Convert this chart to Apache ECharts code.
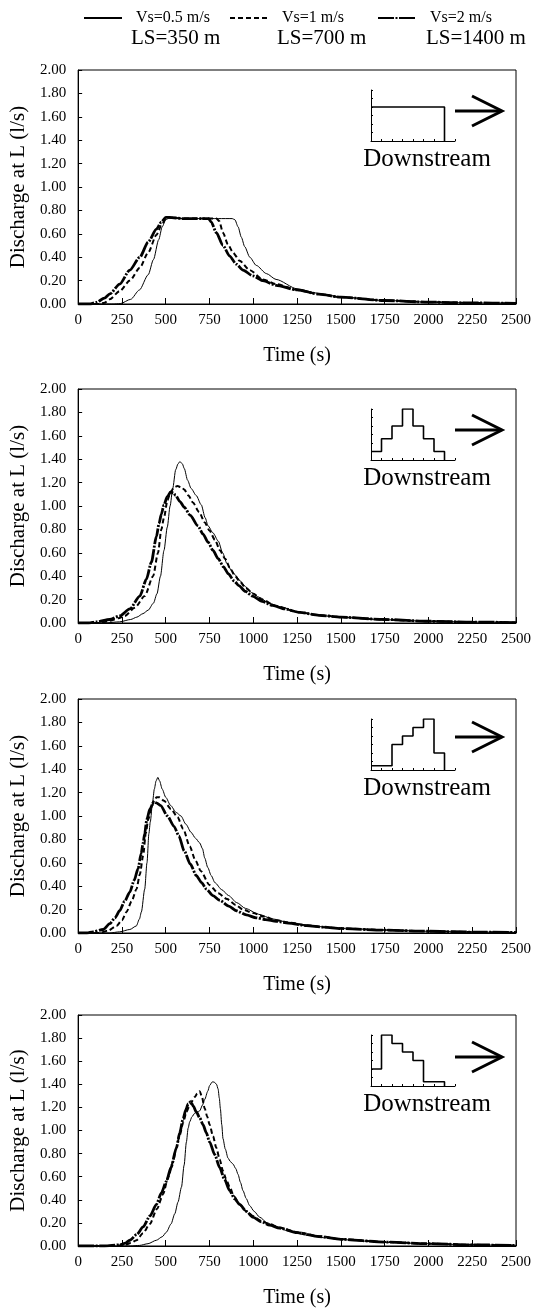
<!DOCTYPE html>
<html>
<head>
<meta charset="utf-8">
<title>Discharge at L</title>
<script src="https://cdn.jsdelivr.net/npm/echarts@6.0.0/dist/echarts.min.js"></script>
<style>
    body { margin: 0; background: #fff; }
    #main { width: 534px; height: 1309px; }
</style>
</head>
<body>
<div id="main"></div>
<script>
// series names and labels
var seriesNames = ['Vs=0.5 m/s', 'Vs=1 m/s', 'Vs=2 m/s'];
var lengthLabels = ['LS=350 m', 'LS=700 m', 'LS=1400 m'];
var yTickStep = 0.2;
var xTickStep = 250;

// panel 1 (uniform inflow) : [time s, discharge l/s]
var p1_v05 = [[0,0],[200,0],[240,0.003],[300,0.04],[350,0.12],[400,0.25],[430,0.38],[460,0.55],[480,0.66],[500,0.72],[520,0.735],[600,0.73],[700,0.73],[800,0.73],[880,0.73],[895,0.72],[913,0.66],[932,0.57],[951,0.49],[980,0.40],[1017,0.33],[1075,0.26],[1130,0.21],[1250,0.13],[1375,0.09],[1500,0.06],[1750,0.03],[2000,0.016],[2250,0.009],[2500,0.005]];
var p1_v1 = [[0,0],[120,0],[150,0.01],[180,0.04],[237,0.11],[295,0.2],[352,0.31],[400,0.44],[447,0.59],[475,0.67],[500,0.73],[520,0.74],[600,0.73],[700,0.73],[790,0.73],[805,0.71],[827,0.61],[855,0.51],[884,0.44],[922,0.37],[979,0.29],[1055,0.21],[1130,0.17],[1250,0.12],[1375,0.085],[1500,0.058],[1750,0.03],[2000,0.016],[2250,0.009],[2500,0.005]];
var p1_v2 = [[0,0],[70,0],[104,0.014],[150,0.05],[181,0.086],[237,0.17],[295,0.29],[352,0.40],[400,0.53],[447,0.64],[475,0.70],[500,0.74],[520,0.74],[600,0.73],[700,0.73],[745,0.73],[760,0.70],[789,0.61],[827,0.50],[865,0.41],[903,0.34],[941,0.29],[998,0.24],[1055,0.20],[1130,0.16],[1250,0.12],[1375,0.085],[1500,0.058],[1750,0.03],[2000,0.016],[2250,0.009],[2500,0.005]];

// panel 2 (triangular inflow)
var p2_v05 = [[0,0],[150,0],[237,0.01],[300,0.03],[335,0.05],[370,0.08],[400,0.11],[430,0.17],[450,0.25],[470,0.40],[490,0.62],[509,0.82],[525,1.0],[540,1.15],[557,1.31],[570,1.36],[581,1.38],[595,1.36],[606,1.32],[625,1.22],[645,1.15],[674,1.09],[703,1.01],[725,0.9],[742,0.83],[770,0.77],[800,0.70],[825,0.60],[849,0.51],[875,0.45],[897,0.41],[925,0.36],[956,0.31],[990,0.26],[1033,0.22],[1090,0.17],[1150,0.14],[1266,0.09],[1375,0.065],[1500,0.048],[1750,0.028],[2000,0.015],[2250,0.008],[2500,0.004]];
var p2_v1 = [[0,0],[130,0],[181,0.02],[230,0.04],[266,0.06],[323,0.13],[380,0.23],[428,0.40],[456,0.60],[475,0.80],[490,0.90],[510,1.05],[528,1.12],[548,1.16],[567,1.17],[590,1.16],[606,1.14],[630,1.09],[655,1.03],[690,0.95],[723,0.86],[750,0.79],[781,0.71],[810,0.62],[839,0.55],[870,0.46],[897,0.40],[925,0.35],[956,0.30],[1000,0.25],[1050,0.20],[1131,0.145],[1250,0.095],[1375,0.068],[1500,0.05],[1750,0.028],[2000,0.015],[2250,0.008],[2500,0.004]];
var p2_v2 = [[0,0],[60,0],[104,0.01],[180,0.03],[237,0.06],[295,0.12],[352,0.23],[390,0.375],[418,0.52],[447,0.74],[462,0.85],[475,0.93],[490,1.01],[509,1.08],[528,1.12],[545,1.11],[557,1.09],[580,1.04],[606,0.99],[640,0.92],[684,0.83],[713,0.76],[742,0.69],[770,0.62],[800,0.55],[830,0.48],[858,0.42],[890,0.36],[917,0.32],[955,0.27],[995,0.23],[1050,0.185],[1111,0.15],[1180,0.12],[1266,0.09],[1375,0.066],[1500,0.05],[1750,0.03],[2000,0.015],[2250,0.008],[2500,0.004]];

// panel 3 (rising inflow)
var p3_v05 = [[0,0],[180,0],[237,0.01],[295,0.03],[332,0.06],[350,0.12],[361,0.18],[380,0.375],[393,0.60],[404,0.85],[412,0.95],[425,1.12],[435,1.23],[445,1.30],[455,1.33],[465,1.30],[480,1.23],[500,1.16],[528,1.09],[560,1.03],[587,1.0],[615,0.93],[645,0.86],[670,0.81],[694,0.77],[710,0.72],[723,0.64],[740,0.56],[760,0.49],[781,0.43],[820,0.37],[859,0.32],[905,0.26],[956,0.21],[1030,0.16],[1111,0.12],[1200,0.09],[1305,0.068],[1400,0.052],[1500,0.04],[1750,0.025],[2000,0.015],[2250,0.008],[2500,0.004]];
var p3_v1 = [[0,0],[120,0],[171,0.02],[219,0.06],[250,0.11],[276,0.18],[305,0.27],[333,0.375],[352,0.50],[371,0.66],[386,0.85],[400,0.97],[420,1.08],[435,1.13],[447,1.16],[465,1.16],[490,1.13],[530,1.06],[567,0.99],[600,0.89],[637,0.74],[670,0.62],[700,0.53],[750,0.41],[800,0.34],[850,0.29],[900,0.24],[941,0.20],[1000,0.17],[1060,0.14],[1131,0.11],[1200,0.09],[1305,0.065],[1400,0.05],[1500,0.04],[1750,0.025],[2000,0.015],[2250,0.008],[2500,0.004]];
var p3_v2 = [[0,0],[50,0],[85,0.01],[143,0.03],[181,0.08],[210,0.13],[237,0.19],[265,0.27],[295,0.35],[320,0.45],[342,0.55],[360,0.68],[371,0.77],[380,0.85],[392,0.97],[410,1.06],[431,1.12],[450,1.11],[470,1.09],[510,1.0],[548,0.91],[575,0.83],[606,0.70],[640,0.59],[675,0.49],[705,0.43],[732,0.375],[770,0.32],[808,0.28],[860,0.23],[903,0.19],[960,0.155],[1017,0.13],[1070,0.115],[1131,0.1],[1200,0.085],[1305,0.063],[1400,0.05],[1500,0.038],[1750,0.024],[2000,0.015],[2250,0.008],[2500,0.004]];

// panel 4 (falling inflow)
var p4_v05 = [[0,0],[300,0],[350,0.005],[399,0.02],[447,0.05],[480,0.08],[504,0.12],[530,0.19],[552,0.28],[570,0.38],[590,0.51],[605,0.70],[618,0.90],[628,1.02],[637,1.075],[650,1.12],[666,1.15],[680,1.16],[694,1.17],[710,1.22],[723,1.27],[740,1.34],[751,1.39],[765,1.42],[776,1.42],[790,1.40],[799,1.36],[806,1.28],[812,1.19],[820,1.05],[827,0.93],[840,0.84],[856,0.76],[870,0.73],[884,0.71],[900,0.67],[913,0.62],[927,0.55],[941,0.48],[960,0.41],[979,0.35],[1005,0.30],[1036,0.25],[1080,0.20],[1131,0.165],[1200,0.13],[1300,0.095],[1400,0.072],[1500,0.055],[1750,0.032],[2000,0.02],[2250,0.01],[2500,0.005]];
var p4_v1 = [[0,0],[200,0],[266,0.01],[300,0.025],[333,0.05],[370,0.11],[409,0.19],[450,0.32],[485,0.45],[515,0.60],[542,0.73],[560,0.85],[580,0.96],[600,1.07],[618,1.16],[640,1.23],[666,1.29],[680,1.32],[694,1.34],[705,1.30],[723,1.19],[737,1.12],[751,1.05],[770,0.95],[789,0.85],[808,0.75],[827,0.65],[845,0.58],[865,0.51],[890,0.43],[922,0.36],[960,0.30],[998,0.26],[1040,0.22],[1093,0.19],[1150,0.16],[1250,0.12],[1375,0.085],[1500,0.06],[1750,0.035],[2000,0.02],[2250,0.01],[2500,0.005]];
var p4_v2 = [[0,0],[150,0],[237,0.01],[270,0.025],[295,0.05],[335,0.10],[371,0.165],[410,0.26],[447,0.36],[475,0.46],[504,0.56],[530,0.68],[561,0.85],[580,0.98],[599,1.10],[615,1.18],[628,1.23],[642,1.25],[658,1.21],[675,1.16],[694,1.11],[713,1.05],[732,0.98],[751,0.90],[780,0.79],[808,0.68],[835,0.58],[865,0.48],[893,0.41],[922,0.36],[960,0.30],[998,0.25],[1045,0.21],[1093,0.18],[1150,0.155],[1250,0.115],[1375,0.082],[1500,0.058],[1750,0.034],[2000,0.02],[2250,0.01],[2500,0.005]];

// inflow shape drawn in the small inset (relative heights of the 7 blocks)
var inlet1 = [4, 4, 4, 4, 4, 4, 4];
var inlet2 = [1, 2.5, 4, 6, 4, 2.5, 1];
var inlet3 = [0.5, 0.5, 3, 4, 5, 6, 2];
var inlet4 = [2, 6, 5, 4, 3, 0.5, 0.5];

var panels = [
    {data: [p1_v05, p1_v1, p1_v2], inlet: inlet1},
    {data: [p2_v05, p2_v1, p2_v2], inlet: inlet2},
    {data: [p3_v05, p3_v1, p3_v2], inlet: inlet3},
    {data: [p4_v05, p4_v1, p4_v2], inlet: inlet4}
];

var panelTops = [70, 389, 699, 1015];
var arrowY = [41, 41, 38, 42];
var font = 'Liberation Serif, Times New Roman, serif';
var lineStyles = [
    {color: '#000', width: 1, type: 'solid'},
    {color: '#000', width: 2, type: [5, 3]},
    {color: '#000', width: 2.8, type: [16, 1.5, 2, 1.5]}
];

var chart = echarts.init(document.getElementById('main'));

var grids = [], xAxes = [], yAxes = [], series = [], graphics = [];

panels.forEach(function (p, k) {
    var top = panelTops[k];
    // main plot
    grids.push({left: 78, right: 18, top: top, height: 234, show: true, borderColor: '#000', borderWidth: 1});
    xAxes.push({
        gridIndex: k, type: 'value', min: 0, max: 2500, interval: xTickStep,
        name: 'Time (s)', nameLocation: 'middle', nameGap: 42,
        nameTextStyle: {fontFamily: font, fontSize: 20, color: '#000'},
        axisLine: {lineStyle: {color: '#000', width: 1}},
        axisTick: {inside: true, length: 6, lineStyle: {color: '#000'}},
        axisLabel: {fontFamily: font, fontSize: 15, color: '#000', margin: 9,
            formatter: function (v) { return String(v); }},
        splitLine: {show: false}
    });
    yAxes.push({
        gridIndex: k, type: 'value', min: 0, max: 2, interval: yTickStep,
        name: 'Discharge at L (l/s)', nameLocation: 'middle', nameGap: 42,
        nameTextStyle: {fontFamily: font, fontSize: 21, color: '#000'},
        axisLine: {show: true, lineStyle: {color: '#000', width: 1}},
        axisTick: {show: true, inside: true, length: 4, lineStyle: {color: '#000'}},
        axisLabel: {fontFamily: font, fontSize: 15, color: '#000', margin: 12,
            formatter: function (v) { return v.toFixed(2); }},
        splitLine: {show: false}
    });
    p.data.forEach(function (d, i) {
        series.push({
            name: seriesNames[i], type: 'line', xAxisIndex: k, yAxisIndex: k,
            data: d, symbol: 'none', smooth: 0.25, smoothMonotone: 'x',
            lineStyle: lineStyles[i], itemStyle: {color: '#000'}, z: 3 + i
        });
    });
});

// insets with the inflow shape
panels.forEach(function (p, k) {
    var top = panelTops[k];
    var gi = 4 + k;
    grids.push({left: 371, width: 84, top: top + 20, height: 51});
    xAxes.push({
        gridIndex: gi, type: 'value', min: 0, max: 8, interval: 1,
        axisLine: {lineStyle: {color: '#000', width: 1}},
        axisTick: {inside: true, length: 2, lineStyle: {color: '#000'}},
        axisLabel: {show: false}, splitLine: {show: false}
    });
    yAxes.push({
        gridIndex: gi, type: 'value', min: 0, max: 6, interval: 1,
        axisLine: {show: true, lineStyle: {color: '#000', width: 1}},
        axisTick: {show: true, inside: true, length: 2, lineStyle: {color: '#000'}},
        axisLabel: {show: false}, splitLine: {show: false}
    });
    var steps = p.inlet.map(function (v, i) { return [i, v]; });
    steps.push([p.inlet.length, 0]);
    series.push({
        name: 'inlet' + (k + 1), type: 'line', xAxisIndex: gi, yAxisIndex: gi,
        data: steps, step: 'end', symbol: 'none', silent: true,
        lineStyle: {color: '#000', width: 1.6}
    });

    // arrow and label
    var ay = top + arrowY[k];
    graphics.push({
        type: 'polyline', shape: {points: [[455, ay], [501, ay]]},
        style: {stroke: '#000', lineWidth: 3, fill: null}
    });
    graphics.push({
        type: 'polyline', shape: {points: [[472, ay - 15], [502, ay], [472, ay + 15]]},
        style: {stroke: '#000', lineWidth: 3, fill: null}
    });
    graphics.push({
        type: 'text', x: 427, y: top + 89,
        style: {text: 'Downstream', font: '25px ' + font, fill: '#000', align: 'center', verticalAlign: 'middle'}
    });
});

// second line of the legend
var lsLefts = [131, 277, 426];
lengthLabels.forEach(function (t, i) {
    graphics.push({
        type: 'text', x: lsLefts[i], y: 38,
        style: {text: t, font: '21px ' + font, fill: '#000', align: 'left', verticalAlign: 'middle'}
    });
});

var legendLefts = [78, 224, 372];
var legends = seriesNames.map(function (name, i) {
    return {
        data: [name], left: legendLefts[i], top: 5, selectedMode: false,
        itemWidth: 38, itemHeight: 14,
        itemStyle: {opacity: 0},
        textStyle: {fontFamily: font, fontSize: 16, color: '#000', padding: [3, 0, 0, 9]}
    };
});

chart.setOption({
    backgroundColor: '#fff',
    animation: false,
    legend: legends,
    grid: grids,
    xAxis: xAxes,
    yAxis: yAxes,
    series: series,
    graphic: graphics
});
</script>
</body>
</html>
